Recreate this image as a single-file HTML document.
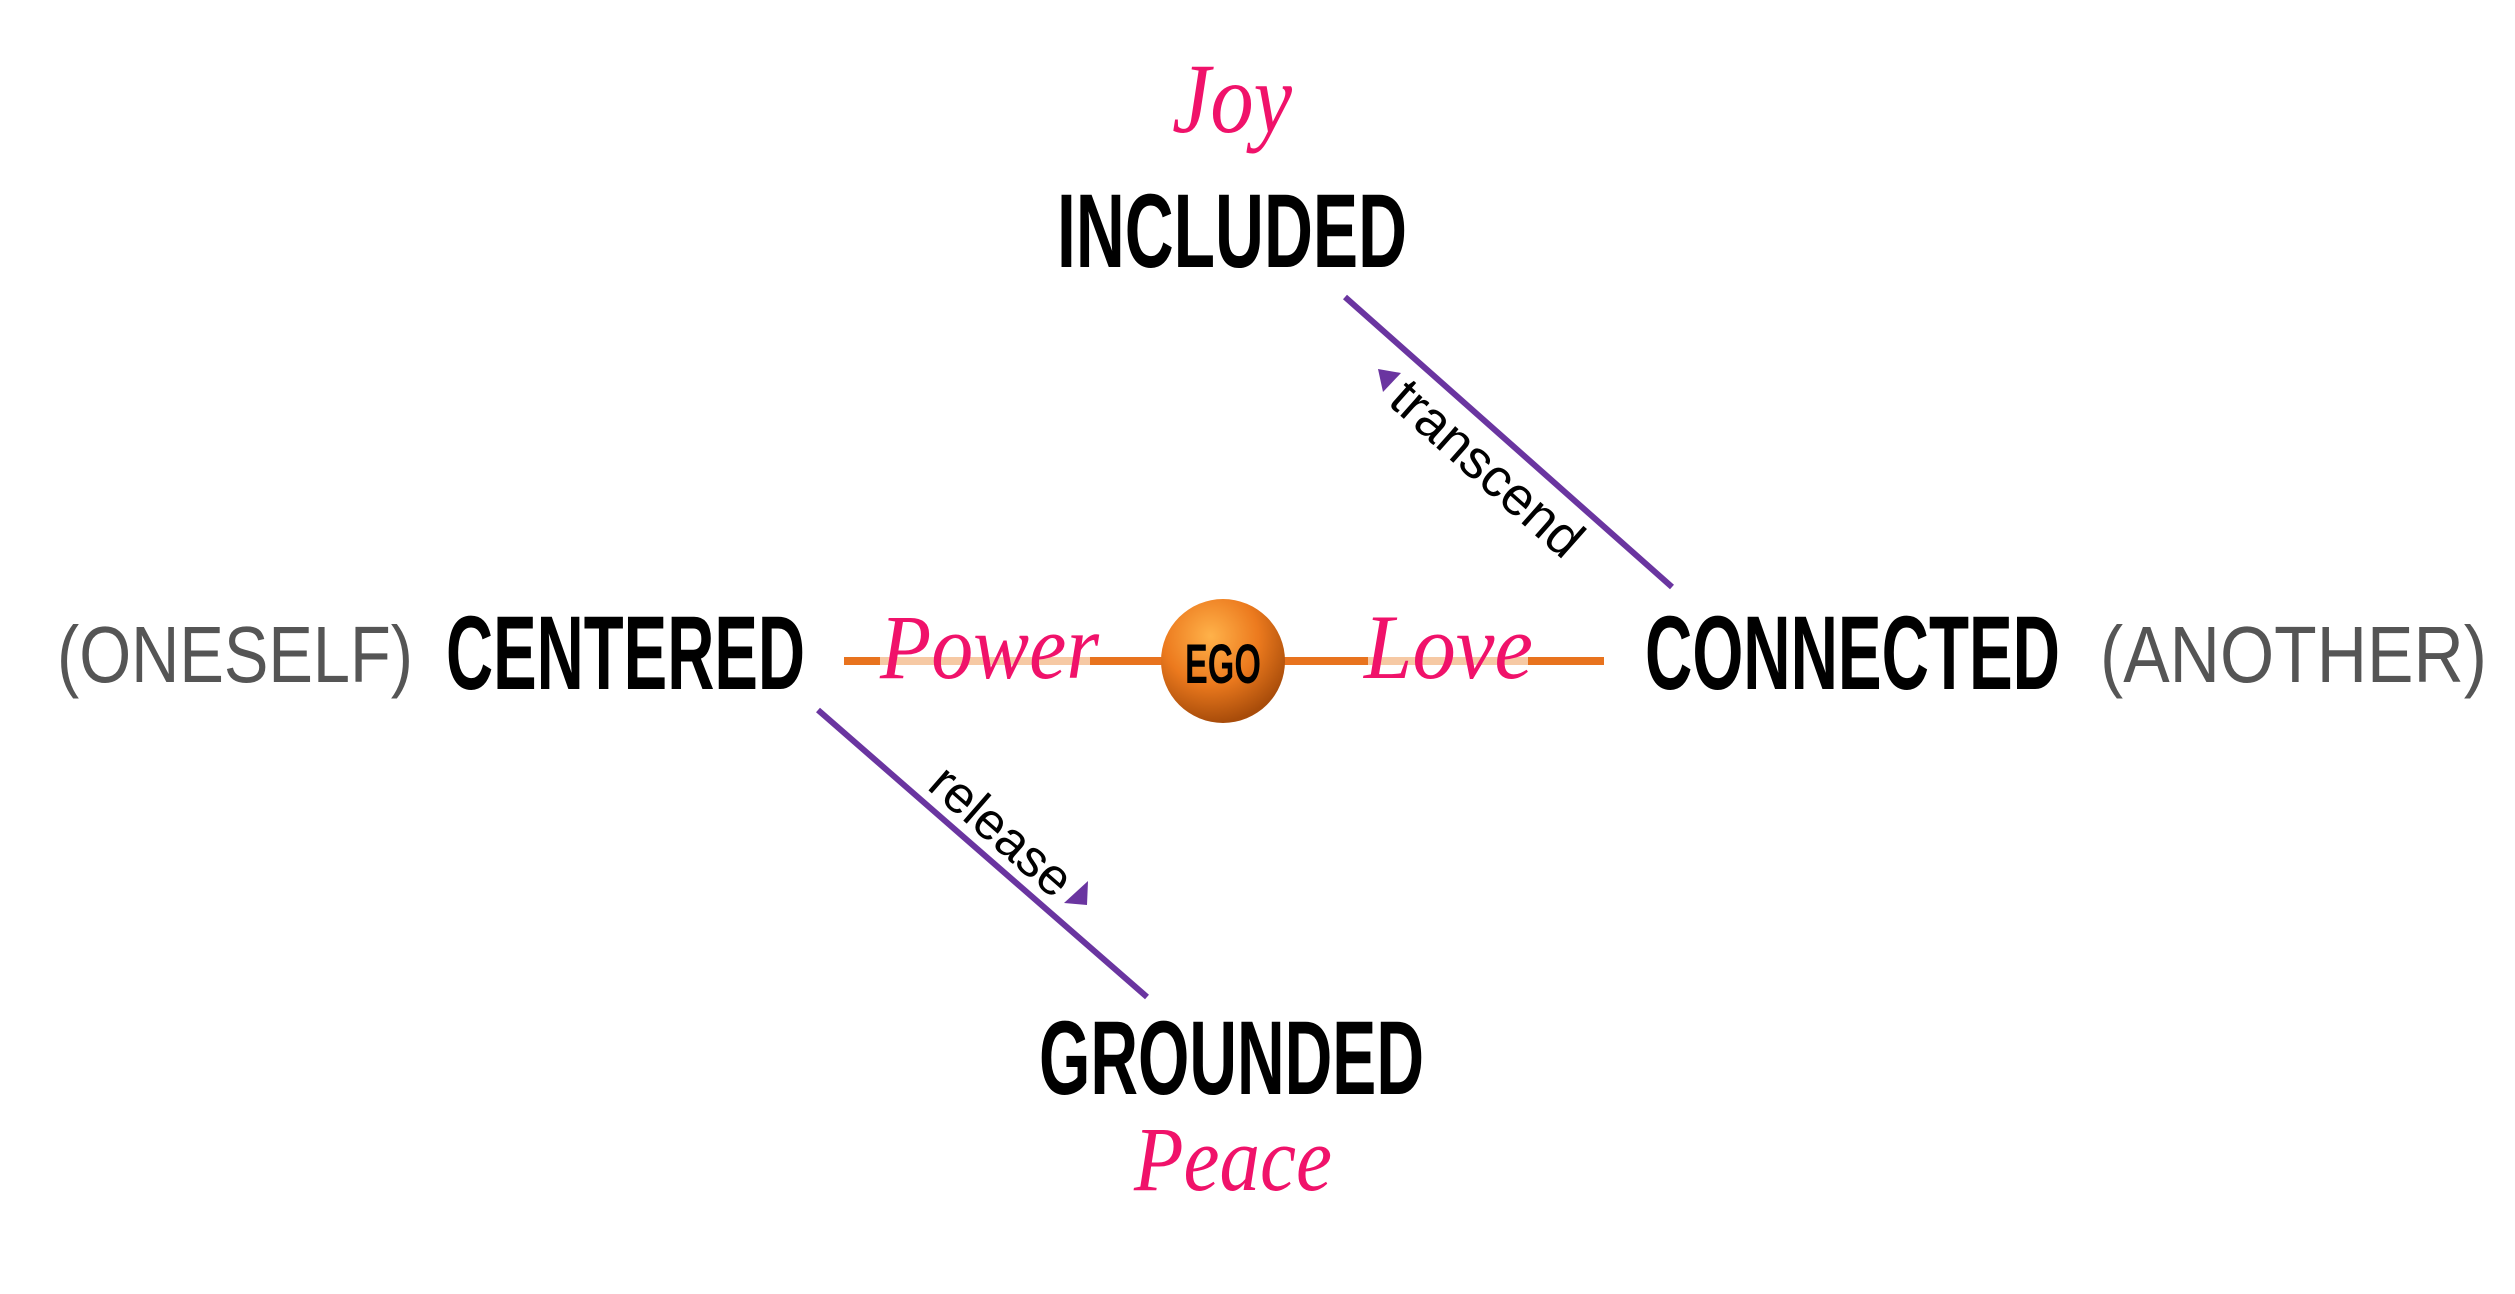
<!DOCTYPE html>
<html><head><meta charset="utf-8"><style>
html,body{margin:0;padding:0;background:#fff;}
svg{display:block;}
.big{font-family:"Liberation Sans Narrow","Liberation Sans",sans-serif;font-weight:bold;fill:#000;}
.gray{font-family:"Liberation Sans Narrow","Liberation Sans",sans-serif;fill:#555;}
.pink{font-family:"Liberation Serif",serif;font-style:italic;fill:#f0126a;}
.small{font-family:"Liberation Sans",sans-serif;fill:#000;}
</style></head><body>
<svg width="2515" height="1294" viewBox="0 0 2515 1294" xmlns="http://www.w3.org/2000/svg">
<defs>
<radialGradient id="g" cx="40%" cy="30%" r="70%">
<stop offset="0" stop-color="#ffb24a"/>
<stop offset="0.55" stop-color="#ec7a1e"/>
<stop offset="1" stop-color="#a84c0a"/>
</radialGradient>
</defs>
<text class="pink" x="1232" y="132" font-size="100" text-anchor="middle" textLength="120" lengthAdjust="spacingAndGlyphs">Joy</text>
<text class="big" x="1057" y="267" font-size="105" textLength="350" lengthAdjust="spacingAndGlyphs">INCLUDED</text>

<line x1="1345" y1="297" x2="1672" y2="587" stroke="#6a35a0" stroke-width="6"/>
<polygon points="1378,369 1401,373 1383,392" fill="#6a35a0"/>
<text class="small" font-size="54" text-anchor="middle" transform="translate(1475,482) rotate(41.6)">transcend</text>

<text class="gray" x="57" y="682" font-size="80" textLength="356" lengthAdjust="spacingAndGlyphs">(ONESELF)</text>
<text class="big" x="446" y="689" font-size="105" textLength="359" lengthAdjust="spacingAndGlyphs">CENTERED</text>

<line x1="844" y1="661" x2="1604" y2="661" stroke="#e8731e" stroke-width="8"/>
<rect x="880" y="657" width="210" height="8" fill="#f6c9a4"/>
<rect x="1368" y="657" width="160" height="8" fill="#f6c9a4"/>
<text class="pink" x="880" y="678" font-size="92" textLength="219" lengthAdjust="spacingAndGlyphs">Power</text>
<text class="pink" x="1364" y="678" font-size="92" textLength="169" lengthAdjust="spacingAndGlyphs">Love</text>

<circle cx="1223" cy="661" r="62" fill="url(#g)"/>
<text class="big" x="1223" y="683" font-size="56" text-anchor="middle" textLength="76" lengthAdjust="spacingAndGlyphs">EGO</text>

<text class="big" x="1645" y="689" font-size="105" textLength="415" lengthAdjust="spacingAndGlyphs">CONNECTED</text>
<text class="gray" x="2100" y="682" font-size="80" textLength="387" lengthAdjust="spacingAndGlyphs">(ANOTHER)</text>

<line x1="818" y1="710" x2="1147" y2="997" stroke="#6a35a0" stroke-width="6"/>
<polygon points="1088,881 1087,905 1064,903" fill="#6a35a0"/>
<text class="small" font-size="52" text-anchor="middle" transform="translate(990,844) rotate(41.1)">release</text>

<text class="big" x="1039" y="1094" font-size="105" textLength="385" lengthAdjust="spacingAndGlyphs">GROUNDED</text>
<text class="pink" x="1134" y="1190" font-size="92" textLength="198" lengthAdjust="spacingAndGlyphs">Peace</text>
</svg>
</body></html>
